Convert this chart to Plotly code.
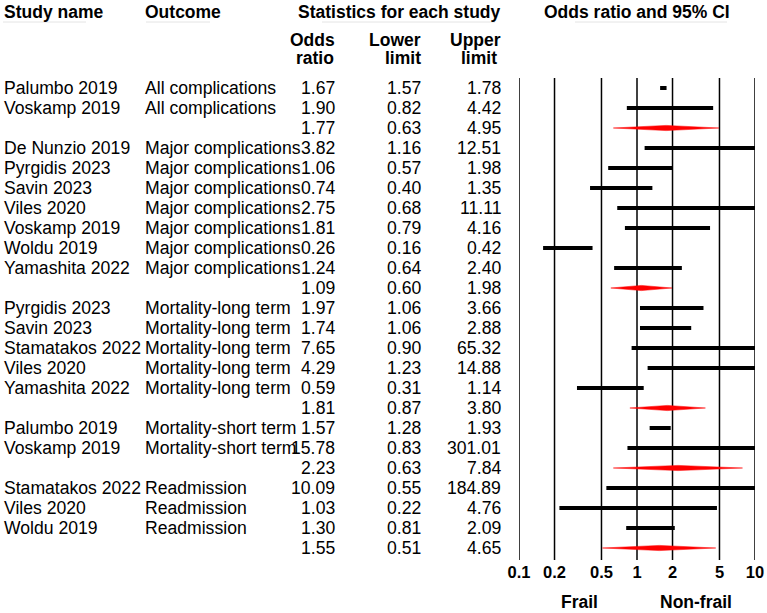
import plotly.graph_objects as go

# ---------------- data ----------------
study = ["Palumbo 2019", "Voskamp 2019", "",
         "De Nunzio 2019", "Pyrgidis 2023", "Savin 2023", "Viles 2020", "Voskamp 2019", "Woldu 2019", "Yamashita 2022", "",
         "Pyrgidis 2023", "Savin 2023", "Stamatakos 2022", "Viles 2020", "Yamashita 2022", "",
         "Palumbo 2019", "Voskamp 2019", "",
         "Stamatakos 2022", "Viles 2020", "Woldu 2019", ""]
outcome = ["All complications", "All complications", "",
           "Major complications", "Major complications", "Major complications", "Major complications",
           "Major complications", "Major complications", "Major complications", "",
           "Mortality-long term", "Mortality-long term", "Mortality-long term", "Mortality-long term",
           "Mortality-long term", "",
           "Mortality-short term", "Mortality-short term", "",
           "Readmission", "Readmission", "Readmission", ""]
odds = [1.67, 1.90, 1.77,
        3.82, 1.06, 0.74, 2.75, 1.81, 0.26, 1.24, 1.09,
        1.97, 1.74, 7.65, 4.29, 0.59, 1.81,
        1.57, 15.78, 2.23,
        10.09, 1.03, 1.30, 1.55]
lower = [1.57, 0.82, 0.63,
         1.16, 0.57, 0.40, 0.68, 0.79, 0.16, 0.64, 0.60,
         1.06, 1.06, 0.90, 1.23, 0.31, 0.87,
         1.28, 0.83, 0.63,
         0.55, 0.22, 0.81, 0.51]
upper = [1.78, 4.42, 4.95,
         12.51, 1.98, 1.35, 11.11, 4.16, 0.42, 2.40, 1.98,
         3.66, 2.88, 65.32, 14.88, 1.14, 3.80,
         1.93, 301.01, 7.84,
         184.89, 4.76, 2.09, 4.65]
pooled = [s == "" for s in study]
tick_vals = [0.1, 0.2, 0.5, 1, 2, 5, 10]
tick_text = ["0.1", "0.2", "0.5", "1", "2", "5", "10"]

# ---------------- layout geometry ----------------
W, H = 767, 613
FONT = "Liberation Sans, Arial, Helvetica, sans-serif"
n = len(study)
px = lambda p: p / W
py = lambda p: 1 - p / H
YDOM = [py(560), py(78)]

fig = go.Figure()

# CI lines (with a small point estimate mark)
for i in range(n):
    if pooled[i]:
        continue
    fig.add_trace(go.Scatter(x=[lower[i], upper[i]], y=[i, i], mode="lines",
                             line=dict(color="black", width=4), hoverinfo="skip", showlegend=False))
    fig.add_trace(go.Scatter(x=[odds[i]], y=[i], mode="markers",
                             marker=dict(symbol="square", size=4, color="black"),
                             hoverinfo="skip", showlegend=False))

# pooled diamonds
hh = 0.13
for i in range(n):
    if not pooled[i]:
        continue
    fig.add_trace(go.Scatter(x=[lower[i], odds[i], upper[i], odds[i], lower[i]],
                             y=[i, i - hh, i, i + hh, i], mode="lines", fill="toself",
                             fillcolor="red", line=dict(color="red", width=0.5),
                             hoverinfo="skip", showlegend=False))

ann = []
fs = 17.6
for i in range(n):
    if study[i]:
        ann.append(dict(x=px(2), y=i, xref="paper", yref="y", text=study[i], xanchor="left",
                        yanchor="middle", showarrow=False, font=dict(family=FONT, size=fs, color="black")))
    if outcome[i]:
        ann.append(dict(x=px(143), y=i, xref="paper", yref="y", text=outcome[i], xanchor="left",
                        yanchor="middle", showarrow=False, font=dict(family=FONT, size=fs, color="black")))
    for val, xr in ((odds[i], 337), (lower[i], 423), (upper[i], 503)):
        ann.append(dict(x=px(xr), y=i, xref="paper", yref="y", text=f"{val:.2f}", xanchor="right",
                        yanchor="middle", showarrow=False, font=dict(family=FONT, size=fs, color="black")))

hfont = dict(family=FONT, size=17.5, color="black", weight="bold")
for txt, x in (("Study name", 2), ("Outcome", 143), ("Statistics for each study", 296),
               ("Odds ratio and 95% CI", 542)):
    ann.append(dict(x=px(x), y=py(12), xref="paper", yref="paper", text=txt, xanchor="left",
                    yanchor="middle", showarrow=False, font=hfont))
for txt, x, y in (("Odds", 337, 40), ("ratio", 336, 58), ("Lower", 423, 40), ("limit", 423, 58),
                  ("Upper", 503, 40), ("limit", 499, 58)):
    ann.append(dict(x=px(x), y=py(y), xref="paper", yref="paper", text=txt, xanchor="right",
                    yanchor="middle", showarrow=False, font=hfont))
for txt, x in (("Frail", 579), ("Non-frail", 696)):
    ann.append(dict(x=px(x), y=py(602), xref="paper", yref="paper", text=txt, xanchor="center",
                    yanchor="middle", showarrow=False, font=hfont))

shapes = []
for x0, x1 in ((3, 86), (146, 210), (322, 495), (575, 727)):
    shapes.append(dict(type="line", xref="paper", yref="paper", x0=px(x0), x1=px(x1),
                       y0=py(22), y1=py(22), line=dict(color="#e4e4e4", width=1)))
# vertical reference lines at each tick
for tv in tick_vals:
    shapes.append(dict(type="line", xref="x", yref="paper", x0=tv, x1=tv,
                       y0=YDOM[0], y1=YDOM[1], line=dict(color="black", width=1.5), layer="below"))

fig.update_layout(
    width=W, height=H, autosize=False,
    margin=dict(l=0, r=0, t=0, b=0, pad=0, autoexpand=False),
    paper_bgcolor="white", plot_bgcolor="white",
    annotations=ann, shapes=shapes, showlegend=False,
    xaxis=dict(type="log", range=[-1, 1], domain=[px(519), px(755)], automargin=False,
               tickvals=tick_vals, ticktext=tick_text, showgrid=False,
               zeroline=False, showline=False, ticks="",
               tickfont=dict(family=FONT, size=16.5, color="black", weight="bold")),
    yaxis=dict(range=[23.6, -0.5], domain=YDOM, showgrid=False, zeroline=False, automargin=False,
               showticklabels=False, ticks="", showline=False),
)

fig.write_html("out.html")
